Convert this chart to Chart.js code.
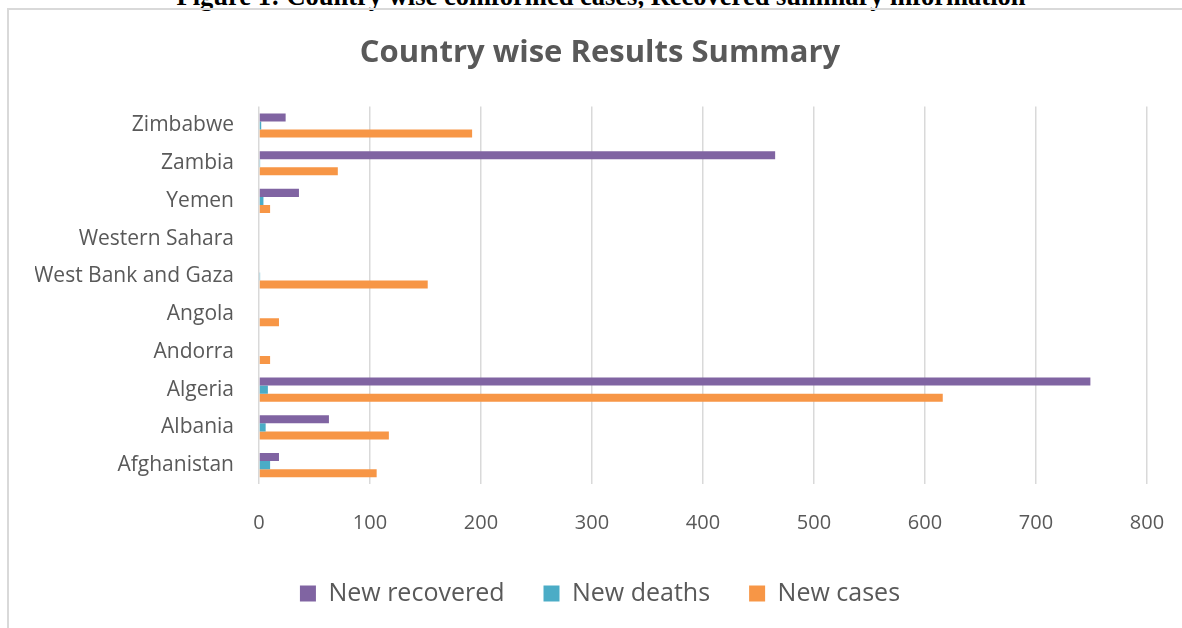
<!DOCTYPE html>
<html>
<head>
<meta charset="utf-8">
<script src="https://cdn.jsdelivr.net/npm/chart.js@4.4.1/dist/chart.umd.min.js"></script>
<style>
    html, body {
        margin: 0;
        padding: 0;
        width: 1182px;
        height: 628px;
        overflow: hidden;
        background: #ffffff;
    }
    .fig_caption {
        position: absolute;
        left: 0;
        width: 1202px;
        top: -17px;
        text-align: center;
        font-family: "Liberation Serif", "Times New Roman", serif;
        font-weight: bold;
        font-size: 26.5px;
        line-height: 1;
        color: #000000;
        white-space: nowrap;
    }
    .chart_frame {
        position: absolute;
        left: 7px;
        top: 8px;
        width: 1190px;
        height: 630px;
        border-left: 2px solid #d9d9d9;
        border-top: 2px solid #d9d9d9;
    }
    .chart_box {
        position: absolute;
        left: 0;
        top: 0;
        width: 1156px;
        height: 618px;
    }
</style>
</head>
<body>
<div class="fig_caption">Figure 1: Country wise comformed cases, Recovered summary information</div>
<div class="chart_frame">
    <div class="chart_box"><canvas id="country_chart"></canvas></div>
</div>
<script>
// values, top row first
const country_labels = [
    'Zimbabwe',
    'Zambia',
    'Yemen',
    'Western Sahara',
    'West Bank and Gaza',
    'Angola',
    'Andorra',
    'Algeria',
    'Albania',
    'Afghanistan',
];
const new_recovered = [24, 465, 36, 0, 0, 0, 0, 749, 63, 18];
const new_deaths = [2, 1, 4, 0, 1, 0, 0, 8, 6, 10];
const new_cases = [192, 71, 10, 0, 152, 18, 10, 616, 117, 106];
const x_tick_values = [0, 100, 200, 300, 400, 500, 600, 700, 800];

const chart_palette = {
    recovered_purple: '#8064a2',
    deaths_teal: '#4bacc6',
    cases_orange: '#f79646',
    grid: '#d9d9d9',
    text: '#595959',
};

const chart_font = '"Open Sans", "DejaVu Sans", sans-serif';

function make_dataset(label, values, color) {
    return {
        label: label,
        data: values,
        backgroundColor: color,
        borderWidth: 0,
        categoryPercentage: 0.64,
        barPercentage: 1.0,
    };
}

function draw_country_chart() {
    const canvas = document.getElementById('country_chart');
    if (!canvas || typeof Chart === 'undefined') {
        return;
    }

    new Chart(canvas.getContext('2d'), {
        type: 'bar',
        data: {
            labels: country_labels,
            datasets: [
                make_dataset('New recovered', new_recovered, chart_palette.recovered_purple),
                make_dataset('New deaths', new_deaths, chart_palette.deaths_teal),
                make_dataset('New cases', new_cases, chart_palette.cases_orange),
            ],
        },
        options: {
            indexAxis: 'y',
            responsive: true,
            maintainAspectRatio: false,
            animation: false,
            layout: {
                padding: { top: 0, left: 26, right: 0, bottom: 12 },
            },
            plugins: {
                title: {
                    display: true,
                    text: 'Country wise Results Summary',
                    color: chart_palette.text,
                    font: { family: chart_font, size: 31, weight: 'bold' },
                    padding: { top: 25, bottom: 34.4 },
                },
                legend: {
                    position: 'bottom',
                    labels: {
                        color: chart_palette.text,
                        font: { family: chart_font, size: 25 },
                        boxWidth: 16,
                        boxHeight: 16,
                        padding: 39,
                    },
                },
                tooltip: { enabled: false },
            },
            scales: {
                x: {
                    min: 0,
                    max: 800,
                    afterBuildTicks: (scale) => {
                        scale.ticks = x_tick_values.map((v) => ({ value: v }));
                    },
                    afterFit: (scale) => {
                        scale.height = 58;
                    },
                    ticks: {
                        color: chart_palette.text,
                        font: { family: chart_font, size: 20 },
                        padding: 0,
                    },
                    // invisible tick marks push the labels down without widening the right margin
                    grid: {
                        color: chart_palette.grid,
                        lineWidth: 1.5,
                        drawTicks: true,
                        tickLength: 27,
                        tickColor: 'rgba(0, 0, 0, 0)',
                    },
                    border: { display: false },
                },
                y: {
                    afterFit: (scale) => {
                        scale.width = 224;
                    },
                    ticks: {
                        color: chart_palette.text,
                        font: { family: chart_font, size: 21 },
                        padding: 25,
                    },
                    grid: { display: false, drawTicks: false },
                    border: { display: false },
                },
                // empty right-hand strip so the plot ends at 800 while title and legend stay centred
                y_gap: {
                    type: 'category',
                    position: 'right',
                    afterFit: (scale) => {
                        scale.width = 18;
                    },
                    ticks: { display: false },
                    grid: { display: false, drawTicks: false },
                    border: { display: false },
                },
            },
        },
    });
}

draw_country_chart();
</script>
</body>
</html>
